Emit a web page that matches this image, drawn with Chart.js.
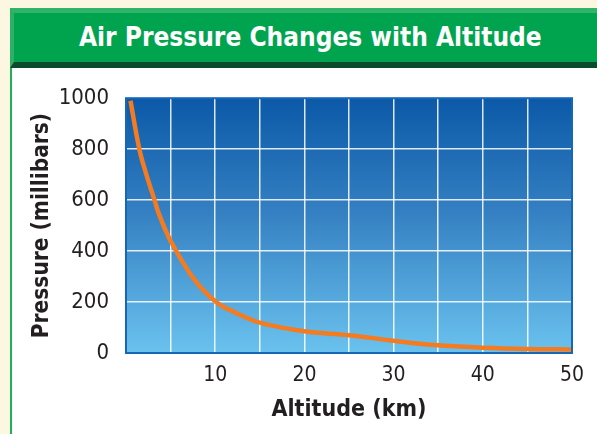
<!DOCTYPE html>
<html>
<head>
<meta charset="utf-8">
<script src="https://cdn.jsdelivr.net/npm/chart.js@4.4.1/dist/chart.umd.min.js"></script>
<style>
  html, body { margin: 0; padding: 0; }
  body { width: 597px; height: 434px; background: #fcf7e1; position: relative; overflow: hidden;
         font-family: "Liberation Sans Narrow", "DejaVu Sans Condensed", "Roboto", sans-serif; }
  #header { position: absolute; left: 10px; top: 8px; width: 600px; height: 60px; box-sizing: border-box;
            background: #00a44f; border-top: 5px solid #30b46c; border-left: 4px solid #2cb067;
            border-bottom: 6px solid #0b4a2c; color: #fff; font-weight: bold; font-size: 26px;
            line-height: 49px; padding-left: 65px; white-space: nowrap; }
  #panel { position: absolute; left: 10px; top: 68px; width: 600px; bottom: 0; background: #fff;
           border-left: 2px solid #1fae5c; }
  #wrap { position: absolute; left: 12px; top: 68px; width: 585px; height: 366px; }
</style>
</head>
<body>
<div id="header">Air Pressure Changes with Altitude</div>
<div id="panel"></div>
<div id="wrap"><canvas id="canvas-1"></canvas></div>
<script>
const altitude = [0.5, 1.5, 2.2, 3.2, 3.7, 5, 7.5, 10, 12.3, 15, 20, 25, 30, 35, 40, 45, 50]
const pressure = [990, 800, 710, 600, 545, 440, 296, 203, 158, 119, 85, 70, 48, 30, 21, 16, 14]
const xTicks = [10, 20, 30, 40, 50]
const yTicks = [0, 200, 400, 600, 800, 1000]

const fontFamily = '"Liberation Sans Narrow", "DejaVu Sans Condensed", Roboto, sans-serif'

const skyPlugin = {
  id: 'sky',
  beforeDraw(chart) {
    const {ctx, chartArea: a} = chart
    const g = ctx.createLinearGradient(0, a.top, 0, a.bottom)
    g.addColorStop(0, '#0b59a8')
    g.addColorStop(0.45, '#3580c2')
    g.addColorStop(1, '#6ac2ee')
    ctx.save()
    ctx.fillStyle = g
    ctx.fillRect(a.left, a.top, a.right - a.left, a.bottom - a.top)
    ctx.restore()
  },
  afterDraw(chart) {
    const {ctx, chartArea: a} = chart
    ctx.save()
    ctx.strokeStyle = '#1767b9'
    ctx.lineWidth = 2
    ctx.strokeRect(a.left, a.top, a.right - a.left, a.bottom - a.top)
    ctx.restore()
  }
}

const lineChart = new Chart(document.getElementById('canvas-1'), {
  type: 'line',
  data: {
    datasets: [{
      data: altitude.map((a, i) => ({x: a, y: pressure[i]})),
      borderColor: '#f47b20',
      borderWidth: 4.5,
      pointRadius: 0,
      tension: 0.4,
      fill: false
    }]
  },
  options: {
    responsive: true,
    maintainAspectRatio: false,
    animation: false,
    layout: {
      padding: {top: 27, right: 25, left: 0, bottom: 0}
    },
    plugins: {
      legend: {display: false},
      tooltip: {enabled: false}
    },
    scales: {
      x: {
        type: 'linear',
        min: 0,
        max: 50,
        afterFit(scale) { scale.height = 81 },
        grid: {color: 'rgba(255, 255, 255, 0.85)', lineWidth: 1.5, drawTicks: false},
        border: {display: false},
        ticks: {
          stepSize: 5,
          padding: 10,
          color: '#231f20',
          font: {family: fontFamily, size: 21},
          maxRotation: 0,
          autoSkip: false,
          callback: v => xTicks.includes(v) ? String(v) : ''
        },
        title: {
          display: true,
          text: 'Altitude (km)',
          color: '#231f20',
          font: {family: fontFamily, size: 23, weight: 'bold'},
          padding: {top: 0, bottom: 10}
        }
      },
      y: {
        min: 0,
        max: 1000,
        afterFit(scale) { scale.width = 114 },
        grid: {color: 'rgba(255, 255, 255, 0.85)', lineWidth: 1.5, drawTicks: false},
        border: {display: false},
        ticks: {
          stepSize: 200,
          padding: 17,
          color: '#231f20',
          font: {family: fontFamily, size: 22},
          callback: v => yTicks.includes(v) ? String(v) : ''
        },
        title: {
          display: true,
          text: 'Pressure (millibars)',
          color: '#231f20',
          font: {family: fontFamily, size: 22.5, weight: 'bold'},
          padding: {top: 17, bottom: 0}
        }
      }
    }
  },
  plugins: [skyPlugin]
});
</script>
</body>
</html>
